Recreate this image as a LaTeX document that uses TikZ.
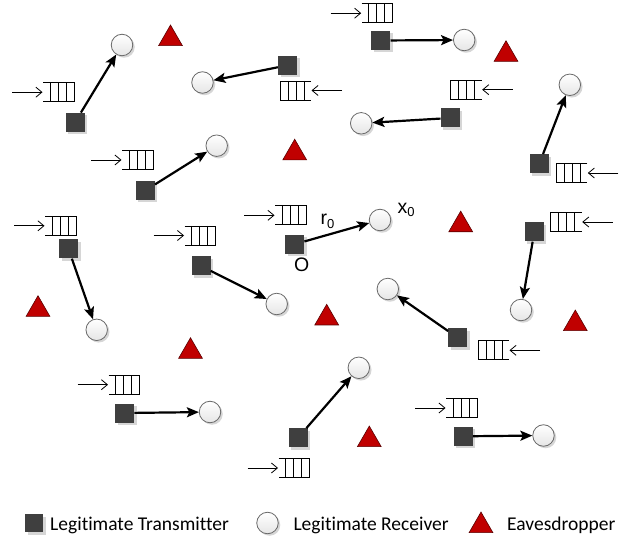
\documentclass[tikz,border=0pt]{standalone}
\usepackage{fontspec}
\setmainfont[Ligatures=NoCommon]{Carlito}
\newfontfamily\labfont{Liberation Sans}
\usetikzlibrary{arrows.meta,shapes.geometric,shadows}
\definecolor{txgray}{HTML}{3F3F3F}
\definecolor{rxline}{HTML}{6A6A6A}
\definecolor{evered}{HTML}{C00000}
\definecolor{eveline}{HTML}{5A0000}
\definecolor{shadowgray}{HTML}{D6D6D6}
\newcommand{\subz}{{\fontsize{13}{15}\selectfont\raisebox{-3.5pt}{0}}}
\tikzset{
  tx/.style={rectangle, minimum size=19pt, inner sep=0pt, fill=txgray,
    drop shadow={shadow xshift=2.5pt, shadow yshift=-2.5pt, fill=shadowgray, opacity=1}},
  rx/.style={circle, minimum size=21.5pt, inner sep=0pt, draw=rxline, line width=0.8pt,
    top color=white, bottom color=black!10,
    drop shadow={shadow xshift=2pt, shadow yshift=-2pt, fill=shadowgray, opacity=1}},
  eve/.style={regular polygon, regular polygon sides=3, minimum size=27.5pt, inner sep=0pt,
    fill=evered, draw=eveline, line width=0.6pt},
  link/.style={line width=2.2pt, -{Stealth[length=12pt,width=10pt,inset=2.5pt]}},
  qline/.style={line width=0.9pt, black},
  qarrow/.style={line width=0.8pt, -{Straight Barb[length=6pt,width=10pt]}},
  legtext/.style={anchor=base west, inner sep=0pt, font=\fontsize{19.5}{23}\selectfont},
  lab/.style={anchor=base west, inner sep=0pt, font=\labfont\fontsize{19.5}{23}\selectfont},
  qL/.pic={
    \draw[qline] (0,-9.5) -- (31,-9.5) -- (31,9.5) -- (0,9.5);
    \draw[qline] (7,-9.5) -- (7,9.5) (15,-9.5) -- (15,9.5) (23,-9.5) -- (23,9.5);
    \draw[qarrow] (-31,0) -- (-0.5,0);
  },
  qR/.pic={
    \draw[qline] (0,-9.5) -- (-31,-9.5) -- (-31,9.5) -- (0,9.5);
    \draw[qline] (-7,-9.5) -- (-7,9.5) (-15,-9.5) -- (-15,9.5) (-23,-9.5) -- (-23,9.5);
    \draw[qarrow] (31,0) -- (0.5,0);
  }
}
\begin{document}
\begin{tikzpicture}[x=1pt,y=-1pt]
\path[use as bounding box, fill=white] (0,0) rectangle (624,537);

% eavesdroppers
\node[eve] (e1) at (170.5,38.8) {};
\node[eve] (e2) at (506,54.5) {};
\node[eve] (e3) at (294.7,153) {};
\node[eve] (e4) at (460.7,224.9) {};
\node[eve] (e5) at (38,309.5) {};
\node[eve] (e6) at (326.7,318.1) {};
\node[eve] (e7) at (190.5,351.5) {};
\node[eve] (e8) at (575.3,323.8) {};
\node[eve] (e9) at (369.3,439.8) {};

% queues
\pic at (43,92.2) {qL};
\pic at (361.7,13.2) {qL};
\pic at (122,160) {qL};
\pic at (45,225.8) {qL};
\pic at (184.5,235.5) {qL};
\pic at (275,215.3) {qL};
\pic at (108.5,384.7) {qL};
\pic at (278.5,468) {qL};
\pic at (446,408) {qL};
\pic at (311,90.5) {qR};
\pic at (481.7,89.7) {qR};
\pic at (587.3,173) {qR};
\pic at (581.7,222) {qR};
\pic at (509,350.3) {qR};

% transmitters
\node[tx] (s1) at (75,122.3) {};
\node[tx] (s2) at (287.5,65.3) {};
\node[tx] (s3) at (380.8,40.5) {};
\node[tx] (s4) at (450.2,118) {};
\node[tx] (s5) at (539.3,163.7) {};
\node[tx] (s6) at (145.3,190.5) {};
\node[tx] (s7) at (68.5,249) {};
\node[tx] (s8) at (201,266) {};
\node[tx] (s9) at (294.7,244.2) {};
\node[tx] (s10) at (534.3,232) {};
\node[tx] (s11) at (457.8,337.8) {};
\node[tx] (s12) at (124.7,413) {};
\node[tx] (s13) at (298,437.8) {};
\node[tx] (s14) at (463.2,436.3) {};

% receivers
\node[rx] (r1) at (122,45) {};
\node[rx] (r2) at (202.5,82.5) {};
\node[rx] (r3) at (464.2,40) {};
\node[rx] (r4) at (361.2,123.3) {};
\node[rx] (r5) at (569.8,84.8) {};
\node[rx] (r6) at (216.7,145.7) {};
\node[rx] (r7) at (96.7,329.8) {};
\node[rx] (r8) at (276.7,304) {};
\node[rx] (r9) at (380,220) {};
\node[rx] (r10) at (521,310) {};
\node[rx] (r11) at (387.8,289) {};
\node[rx] (r12) at (210,412) {};
\node[rx] (r13) at (358.8,367.8) {};
\node[rx] (r14) at (543.5,435.5) {};

% links
\foreach \i in {1,...,14} {\draw[link] (s\i) -- (r\i);}

% labels
\node[lab] (lr0) at (320.5,225) {r\subz};
\node[lab] (lx0) at (397.5,213.5) {x\subz};
\node[lab] (lo) at (294,272) {O};

% legend
\node[tx, minimum size=18pt] (ls) at (34,523) {};
\node[legtext] (lst) at (50,530) {Legitimate Transmitter};
\node[rx] (lr) at (267.5,523) {};
\node[legtext] (lrt) at (293.3,530) {Legitimate Receiver};
\node[eve] (le) at (481,525.8) {};
\node[legtext] (let) at (507,530) {Eavesdropper};
\end{tikzpicture}
\end{document}
